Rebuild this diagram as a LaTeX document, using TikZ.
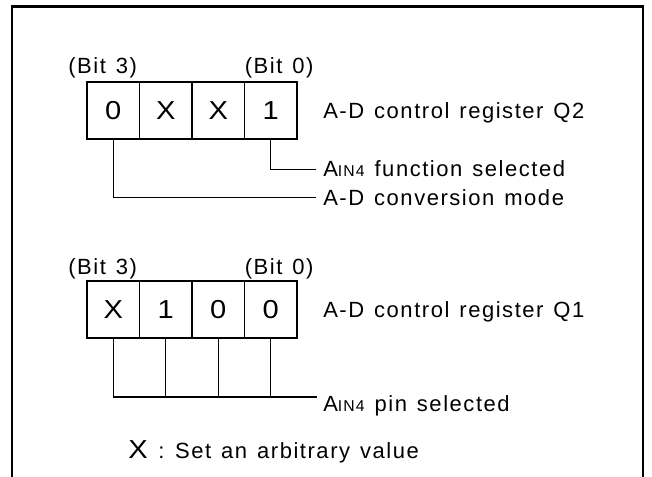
\documentclass[tikz,border=0pt]{standalone}
\usepackage{fontspec}
\setmainfont{Liberation Sans}
\newfontfamily\lblfont[LetterSpace=7,WordSpace=1.3]{Liberation Sans}
\newfontfamily\cellfont[FakeStretch=1.12]{Liberation Sans}
\newcommand{\lbltxt}{\lblfont\fontsize{16.5}{20}\selectfont}
\newcommand{\celltxt}{\cellfont\fontsize{19.5}{24}\selectfont}
\newcommand{\ainfour}{A{\fontsize{11.8}{14}\selectfont IN4}}

\begin{document}
\begin{tikzpicture}[x=0.75pt,y=-0.75pt,
  cell/.style={draw,line width=1pt,minimum width=39.4pt,minimum height=42.75pt,inner sep=0pt,outer sep=0pt,font=\celltxt},
  lbl/.style={inner sep=0pt,anchor=base west,font=\lbltxt},
  wire/.style={line width=0.8pt}]
\useasboundingbox (0,0) rectangle (652,477);
% frame, open at the bottom
\draw[line width=1.9pt] (12,477)--(12,6.5)--(643,6.5)--(643,477);
% register Q2
\node[cell] (q2b3) at (113.25,110.5) {0};
\node[cell] (q2b2) at (165.75,110.5) {X};
\node[cell] (q2b1) at (218.25,110.5) {X};
\node[cell] (q2b0) at (270.75,110.5) {1};
\node[lbl] (q2hi) at (68,74) {(Bit 3)};
\node[lbl] (q2lo) at (244.5,74) {(Bit 0)};
\node[lbl] (q2reg) at (323,118.5) {A-D control register Q2};
\node[lbl] (fsel) at (323,177) {\ainfour\ function selected};
\node[lbl] (cmode) at (323,205) {A-D conversion mode};
\draw[wire,shorten >=5pt] (q2b0.south) |- (fsel.west);
\draw[wire,shorten >=5pt] (q2b3.south) |- (cmode.west);
% register Q1
\node[cell] (q1b3) at (113.25,309.5) {X};
\node[cell] (q1b2) at (165.75,309.5) {1};
\node[cell] (q1b1) at (218.25,309.5) {0};
\node[cell] (q1b0) at (270.75,309.5) {0};
\node[lbl] (q1hi) at (68,274) {(Bit 3)};
\node[lbl] (q1lo) at (244.5,274) {(Bit 0)};
\node[lbl] (q1reg) at (323,317) {A-D control register Q1};
\coordinate (pinend) at (316.7,397);
\node[lbl] (psel) at (323,411.5) {\ainfour\ pin selected};
\draw[wire] (q1b3.south) |- (pinend);
\foreach \c in {q1b2,q1b1,q1b0}
  \draw[wire] (\c.south) -- (\c.south |- pinend);
% legend
\node[lbl] (note) at (128,458) {{\celltxt X}\hspace{8pt}:\hspace{8pt}Set an arbitrary value};
\end{tikzpicture}
\end{document}
